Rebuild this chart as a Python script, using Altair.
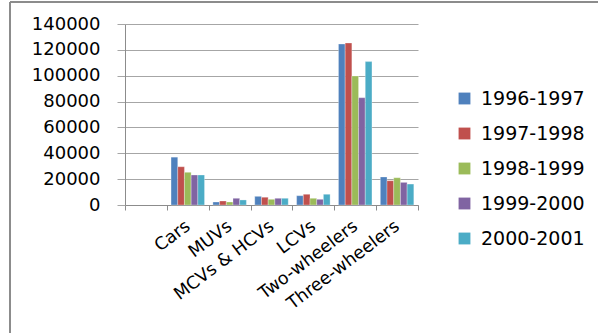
import altair as alt
import pandas as pd

categories = [" ", "Cars", "MUVs", "MCVs & HCVs", "LCVs", "Two-wheelers", "Three-wheelers"]
years = ["1996-1997", "1997-1998", "1998-1999", "1999-2000", "2000-2001"]
colors = ["#4F81BD", "#C0504D", "#9BBB59", "#8064A2", "#4BACC6"]

cars = [37000, 29600, 25300, 23200, 23200]
muvs = [2300, 3100, 2300, 5200, 3900]
mcvs_hcvs = [6700, 6000, 4400, 5200, 5200]
lcvs = [7200, 8300, 5200, 4400, 8300]
two_wheelers = [124500, 125300, 99800, 83000, 110900]
three_wheelers = [21700, 18800, 21100, 17500, 16200]
y_ticks = [0, 20000, 40000, 60000, 80000, 100000, 120000, 140000]

series = {
    "Cars": cars,
    "MUVs": muvs,
    "MCVs & HCVs": mcvs_hcvs,
    "LCVs": lcvs,
    "Two-wheelers": two_wheelers,
    "Three-wheelers": three_wheelers,
}
rows = []
for cat, vals in series.items():
    for yr, v in zip(years, vals):
        rows.append({"category": cat, "year": yr, "value": v})
df = pd.DataFrame(rows)

FONT = "DejaVu Sans"

bars = alt.Chart(df).mark_bar(stroke="white", strokeWidth=0.3).encode(
    x=alt.X(
        "category:N",
        scale=alt.Scale(domain=categories, paddingInner=0, paddingOuter=0),
        sort=categories,
        axis=alt.Axis(
            title=None,
            labelAngle=-37,
            labelAlign="right",
            labelBaseline="middle",
            tickBand="extent",
            tickSize=5,
            labelPadding=14,
            labelFontSize=17.5,
            labelFont=FONT,
            labelColor="#000000",
            domainColor="#8c8c8c",
            tickColor="#8c8c8c",
            grid=False,
        ),
    ),
    xOffset=alt.XOffset(
        "year:N",
        scale=alt.Scale(domain=years, paddingInner=0, paddingOuter=0.625),
    ),
    y=alt.Y(
        "value:Q",
        scale=alt.Scale(domain=[0, 140000], nice=False),
        axis=alt.Axis(
            title=None,
            values=y_ticks,
            format="d",
            tickSize=8,
            labelPadding=17,
            labelFontSize=18,
            labelFont=FONT,
            labelColor="#000000",
            domainColor="#8c8c8c",
            tickColor="#a6a6a6",
            gridColor="#a6a6a6",
            grid=True,
        ),
    ),
    color=alt.Color(
        "year:N",
        scale=alt.Scale(domain=years, range=colors),
        legend=alt.Legend(
            title=None,
            orient="none",
            legendX=330,
            legendY=65,
            symbolType="square",
            symbolSize=140,
            symbolStrokeWidth=0,
            labelFontSize=19,
            labelFont=FONT,
            labelColor="#000000",
            labelOffset=7,
            rowPadding=15,
        ),
    ),
)

frame_src = pd.DataFrame({"v": [0]})
left_line = alt.Chart(frame_src).mark_rule(color="#8c8c8c", strokeWidth=2).encode(
    x=alt.value(-115), y=alt.value(-22), y2=alt.value(309)
)
top_line = alt.Chart(frame_src).mark_rule(color="#8c8c8c", strokeWidth=2).encode(
    x=alt.value(-115), x2=alt.value(473), y=alt.value(-22)
)

chart = alt.layer(bars, left_line, top_line).properties(
    width=293,
    height=181,
    padding={"left": 125, "top": 24, "right": 180, "bottom": 128},
    autosize=alt.AutoSizeParams(type="none"),
    background="white",
).configure_view(stroke=None)

chart.save("out.html", embed_options={"renderer": "svg", "actions": False})
